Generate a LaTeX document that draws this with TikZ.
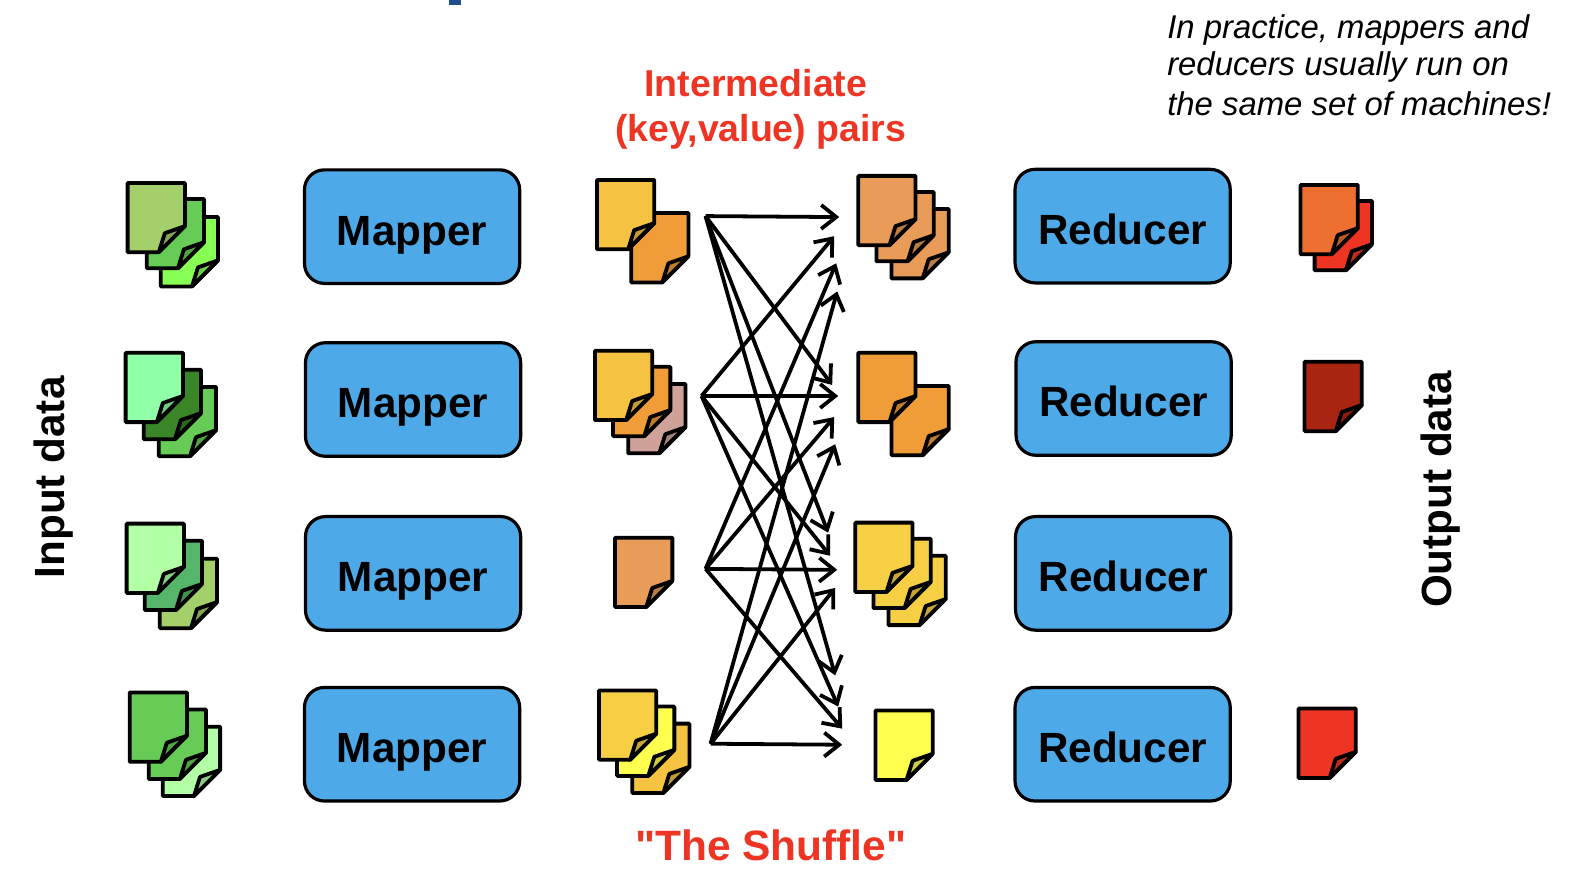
\documentclass[tikz,border=0pt]{standalone}
\usepackage{fontspec}
\setmainfont{Liberation Sans}
\newfontfamily\plainfont{Liberation Sans}
\usetikzlibrary{arrows.meta}

\definecolor{boxblue}{HTML}{4DA9E8}
\definecolor{titleblue}{HTML}{1F4E8C}
\definecolor{labelred}{HTML}{EE3524}
\definecolor{leaf}{HTML}{A3D06A}
\definecolor{grass}{HTML}{66CC55}
\definecolor{lime}{HTML}{88FF55}
\definecolor{mint}{HTML}{8FFFA8}
\definecolor{forest}{HTML}{3A8527}
\definecolor{pale}{HTML}{B3FFA6}
\definecolor{sea}{HTML}{55B56A}
\definecolor{gold}{HTML}{F5C242}
\definecolor{amber}{HTML}{F09C38}
\definecolor{clay}{HTML}{E89C58}
\definecolor{rose}{HTML}{CFA199}
\definecolor{lemon}{HTML}{FFFF50}
\definecolor{sun}{HTML}{F7CF45}
\definecolor{flame}{HTML}{ED7030}
\definecolor{brick}{HTML}{AA2412}

\tikzset{
    x=0.50255bp, y=-0.50255bp,
    >={Straight Barb[length=7.5pt,width=12pt]},
    worker/.style={draw, line width=1.6pt, fill=boxblue, rounded corners=10pt, minimum width=108pt, minimum height=57pt, text height=18.5pt, text depth=0pt, font=\fontsize{21.2}{25}\selectfont\bfseries},
    sidelabel/.style={font=\fontsize{21.2}{25}\selectfont\bfseries, rotate=90},
    redlabel/.style={text=labelred, anchor=base, inner sep=0pt, font=\fontsize{18.8}{22}\selectfont\bfseries},
    note/.style={anchor=base west, inner sep=0pt, font=\fontsize{16.5}{20}\selectfont\itshape},
    flow/.style={->, line width=1.9pt},
    sheetline/.style={draw, line width=1.9pt, line join=round}
}

% one sheet of paper, given by its top left corner
\newcommand{\sheet}[3]{
    \begin{scope}[shift={(#1,#2)}]
        \path[sheetline, fill=#3] (1,1) -- (58,1) -- (58,44) -- (32,70) -- (1,70) -- cycle;
        \path[sheetline, fill=#3!80!black] (32,70) -- (38,51) -- (58,44) -- cycle;
    \end{scope}
}

\begin{document}
\begin{tikzpicture}
    \useasboundingbox (0,0) rectangle (1568.1,875.6);

    \fill[titleblue] (447,0) rectangle (459,5);

    % input
    \sheet{159}{215}{lime}
    \sheet{145}{197}{grass}
    \sheet{126}{181}{leaf}
    \sheet{157}{384}{grass}
    \sheet{142}{367}{forest}
    \sheet{124}{350}{mint}
    \sheet{158}{555}{leaf}
    \sheet{143}{537}{sea}
    \sheet{125}{520}{pale}
    \sheet{161}{722}{pale}
    \sheet{147}{705}{grass}
    \sheet{128}{688}{grass}

    % intermediate, left side
    \sheet{627}{211}{amber}
    \sheet{593}{178}{gold}
    \sheet{624}{381}{rose}
    \sheet{609}{364}{amber}
    \sheet{591}{348}{gold}
    \sheet{611}{534}{clay}
    \sheet{628}{719}{gold}
    \sheet{613}{702}{lemon}
    \sheet{595}{686}{sun}

    % intermediate, right side
    \sheet{886}{207}{clay}
    \sheet{871}{190}{clay}
    \sheet{853}{174}{clay}
    \sheet{886}{383}{amber}
    \sheet{853}{350}{amber}
    \sheet{883}{552}{sun}
    \sheet{868}{535}{sun}
    \sheet{850}{519}{sun}
    \sheet{870}{706}{lemon}

    % output
    \sheet{1307}{199}{labelred}
    \sheet{1293}{183}{flame}
    \sheet{1297}{359}{brick}
    \sheet{1291}{704}{labelred}

    \node[worker] (mapone) at (410,225.5) {Mapper};
    \node[worker] (maptwo) at (411,397.5) {Mapper};
    \node[worker] (mapthree) at (411,570.5) {Mapper};
    \node[worker] (mapfour) at (410,740.5) {Mapper};
    \node[worker] (redone) at (1117,225) {Reducer};
    \node[worker] (redtwo) at (1118,396.5) {Reducer};
    \node[worker] (redthree) at (1117.5,570.5) {Reducer};
    \node[worker] (redfour) at (1117,740.5) {Reducer};

    \node[sidelabel] (inputlabel) at (53,475) {Input data};
    \node[sidelabel] (outputlabel) at (1433,487) {Output data};
    \node[redlabel] (interone) at (752,96) {Intermediate};
    \node[redlabel] (intertwo) at (757,141) {(key,value) pairs};
    \node[redlabel, font=\fontsize{21.3}{25}\selectfont\bfseries\plainfont] (shuffle) at (767,856) {"The Shuffle"};
    \node[note] (noteone) at (1161,38) {In practice, mappers and};
    \node[note] (notetwo) at (1161,75) {reducers usually run on};
    \node[note] (notethree) at (1161,115) {the same set of machines!};

    \coordinate (srcone) at (702,215);
    \coordinate (srctwo) at (698,394);
    \coordinate (srcthree) at (702,566);
    \coordinate (srcfour) at (707,740);

    \coordinate (oneone) at (835,216);
    \coordinate (onetwo) at (830,235);
    \coordinate (onethree) at (832,262);
    \coordinate (onefour) at (833,290);
    \coordinate (twoone) at (828,383);
    \coordinate (twotwo) at (834,394);
    \coordinate (twothree) at (830,415);
    \coordinate (twofour) at (831,442);
    \coordinate (threeone) at (824,530);
    \coordinate (threetwo) at (826,553);
    \coordinate (threethree) at (833,567);
    \coordinate (threefour) at (831,585);
    \coordinate (fourone) at (831,672);
    \coordinate (fourtwo) at (834,703);
    \coordinate (fourthree) at (838,725);
    \coordinate (fourfour) at (838,741);

    \draw[flow] (srcone) to (oneone);
    \draw[flow] (srcone) to (twoone);
    \draw[flow] (srcone) to (threeone);
    \draw[flow] (srcone) to (fourone);
    \draw[flow] (srctwo) to (onetwo);
    \draw[flow] (srctwo) to (twotwo);
    \draw[flow] (srctwo) to (threetwo);
    \draw[flow] (srctwo) to (fourtwo);
    \draw[flow] (srcthree) to (onethree);
    \draw[flow] (srcthree) to (twothree);
    \draw[flow] (srcthree) to (threethree);
    \draw[flow] (srcthree) to (fourthree);
    \draw[flow] (srcfour) to (onefour);
    \draw[flow] (srcfour) to (twofour);
    \draw[flow] (srcfour) to (threefour);
    \draw[flow] (srcfour) to (fourfour);
\end{tikzpicture}
\end{document}
